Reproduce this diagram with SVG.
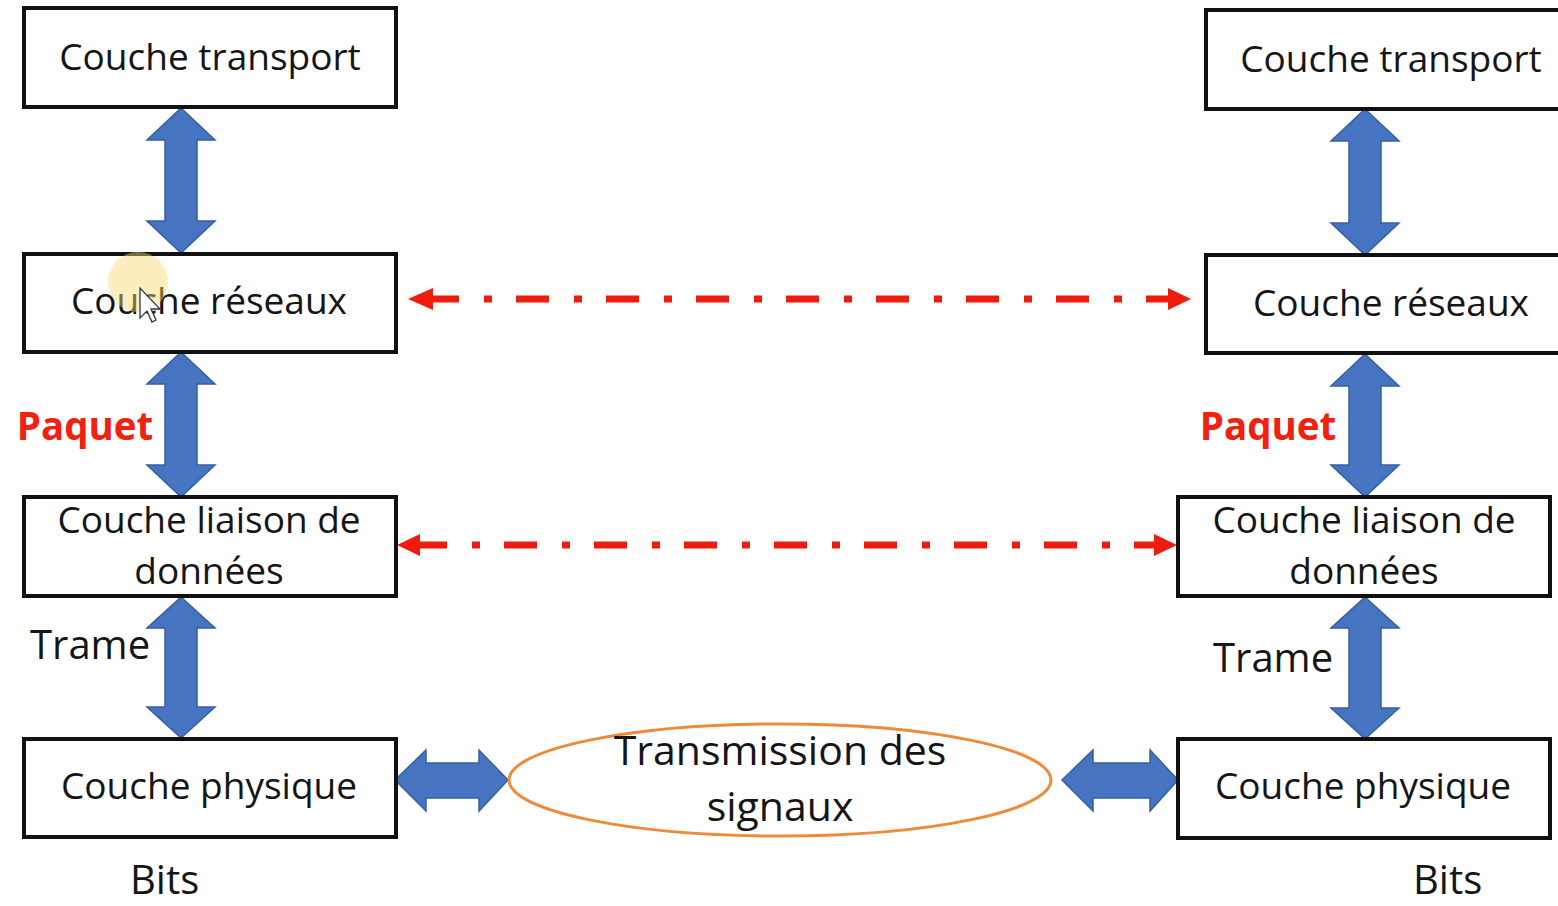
<svg xmlns="http://www.w3.org/2000/svg" width="1558" height="906" viewBox="0 0 1558 906">
<style>
.box{fill:#fff;stroke:#111;stroke-width:4}
.t{font-family:"Open Sans","Noto Sans",sans-serif;font-size:37px;fill:#151515;text-anchor:middle}
.lbl{font-family:"Open Sans","Noto Sans",sans-serif;font-size:40px;fill:#151515}
.red{font-family:"Open Sans","Noto Sans",sans-serif;font-size:38.5px;font-weight:bold;fill:#f2200f;text-anchor:middle}
.blue{fill:#4674C0;stroke:#35609f;stroke-width:1.5}
.dd{stroke:#ee1c0e;stroke-width:7;fill:none;stroke-dasharray:33 25 8 24}
.rh{fill:#ee1c0e}
</style>
<rect width="1558" height="906" fill="#fff"/>
<g id="connectors">
  <path class="blue" d="M181,108 L215,140 L197,140 L197,221 L215,221 L181,253 L147,221 L165,221 L165,140 L147,140 Z"/>
  <path class="blue" d="M181,352 L215,384 L197,384 L197,465 L215,465 L181,497 L147,465 L165,465 L165,384 L147,384 Z"/>
  <path class="blue" d="M181,597 L215,628 L197,628 L197,707 L215,707 L181,738 L147,707 L165,707 L165,628 L147,628 Z"/>
  <path class="blue" d="M1365,109 L1399,141 L1381,141 L1381,223 L1399,223 L1365,255 L1331,223 L1349,223 L1349,141 L1331,141 Z"/>
  <path class="blue" d="M1365,354 L1399,386 L1381,386 L1381,465 L1399,465 L1365,497 L1331,465 L1349,465 L1349,386 L1331,386 Z"/>
  <path class="blue" d="M1365,597 L1399,628 L1381,628 L1381,708 L1399,708 L1365,739 L1331,708 L1349,708 L1349,628 L1331,628 Z"/>
  <path class="blue" d="M395,780 L426,750 L426,763 L479,763 L479,750 L508,780 L479,811 L479,798 L426,798 L426,811 Z"/>
  <path class="blue" d="M1062,780 L1093,750 L1093,763 L1150,763 L1150,750 L1178,780 L1150,811 L1150,798 L1093,798 L1093,811 Z"/>
  <path class="dd" d="M426,299 L1172,299"/>
  <polygon class="rh" points="408,299 433,288 433,310"/>
  <polygon class="rh" points="1191,299 1168,288 1168,310"/>
  <path class="dd" d="M414,545 L1158,545"/>
  <polygon class="rh" points="397,545 420,534 420,556"/>
  <polygon class="rh" points="1177,545 1154,534 1154,556"/>
</g>
<g id="left-transport"><rect class="box" x="24" y="8" width="372" height="99"/><text class="t" x="210" y="70">Couche transport</text></g>
<g id="left-reseaux"><rect class="box" x="24" y="254" width="372" height="98"/><text class="t" x="209" y="314">Couche réseaux</text></g>
<g id="left-liaison"><rect class="box" x="24" y="497" width="372" height="99"/><text class="t" x="209" y="533">Couche liaison de</text><text class="t" x="209" y="584">données</text></g>
<g id="left-physique"><rect class="box" x="24" y="739" width="372" height="98"/><text class="t" x="209" y="799">Couche physique</text></g>
<g id="right-transport"><rect class="box" x="1206" y="10" width="380" height="99"/><text class="t" x="1391" y="72">Couche transport</text></g>
<g id="right-reseaux"><rect class="box" x="1206" y="255" width="380" height="98"/><text class="t" x="1391" y="316">Couche réseaux</text></g>
<g id="right-liaison"><rect class="box" x="1178" y="497" width="372" height="99"/><text class="t" x="1364" y="533">Couche liaison de</text><text class="t" x="1364" y="584">données</text></g>
<g id="right-physique"><rect class="box" x="1178" y="739" width="372" height="99"/><text class="t" x="1363" y="799">Couche physique</text></g>
<g id="transmission"><ellipse cx="780" cy="780" rx="271" ry="56" fill="none" stroke="#ED8B3A" stroke-width="3"/><text class="t" x="780" y="765" style="font-size:41px">Transmission des</text><text class="t" x="780" y="821" style="font-size:41px">signaux</text></g>
<g id="labels">
  <text class="red" x="85" y="440">Paquet</text>
  <text class="red" x="1268" y="440">Paquet</text>
  <text class="lbl" x="30" y="659">Trame</text>
  <text class="lbl" x="1213" y="672">Trame</text>
  <text class="lbl" x="130" y="894" style="font-size:40px">Bits</text>
  <text class="lbl" x="1413" y="894" style="font-size:40px">Bits</text>
</g>
<g id="cursor">
  <circle cx="138" cy="282" r="30" fill="#f9d970" opacity="0.45"/>
  <path d="M140,288 L140,318 L147,311 L152,322 L156,320 L151,309 L160,309 Z" fill="#fff" stroke="#333" stroke-width="1.3"/>
</g>
</svg>
